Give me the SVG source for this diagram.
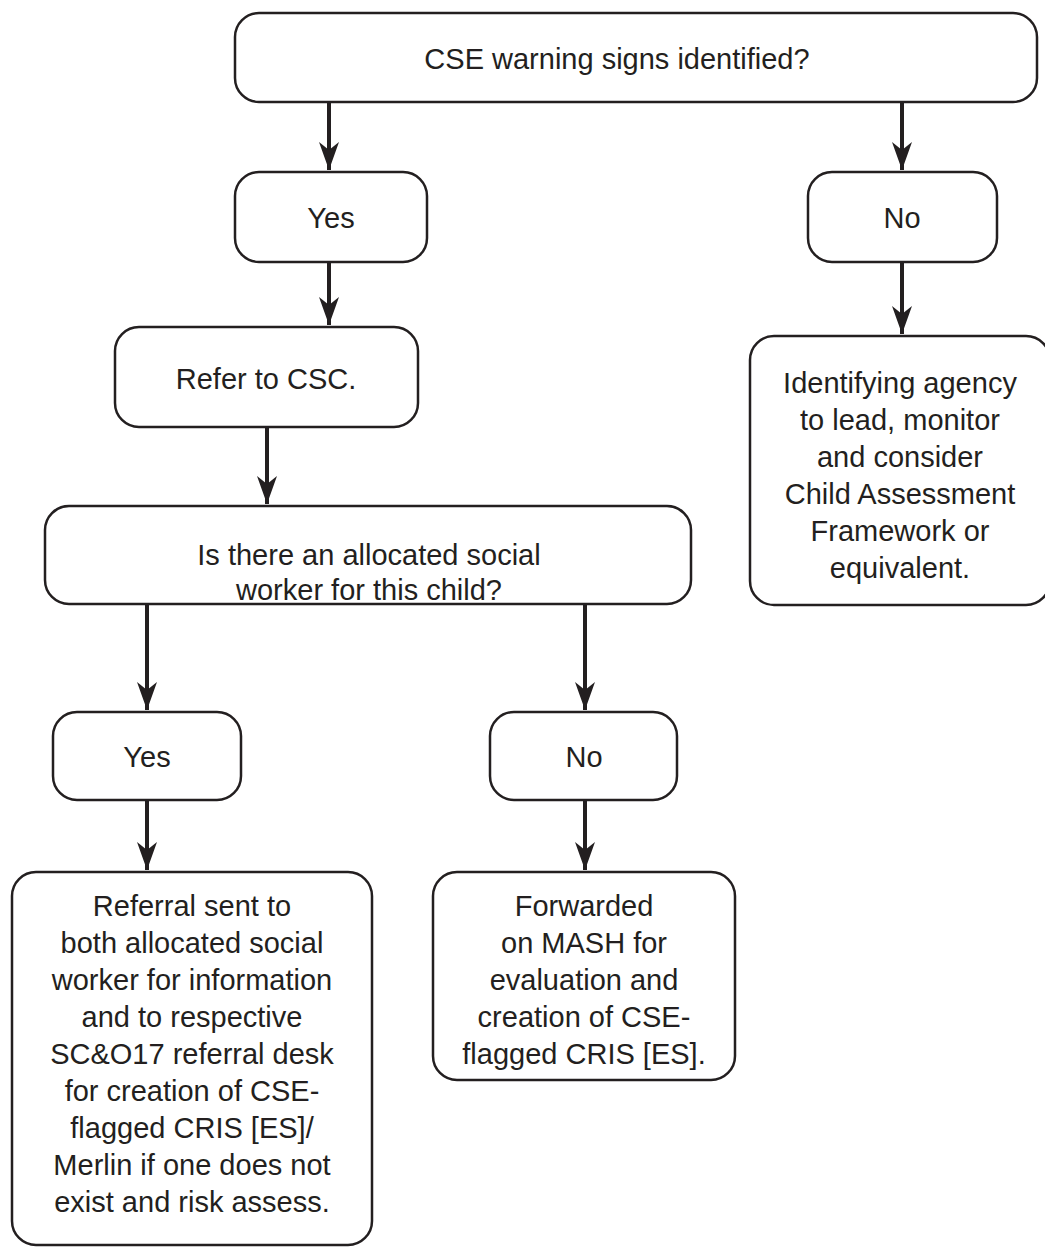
<svg xmlns="http://www.w3.org/2000/svg" width="1045" height="1251" viewBox="0 0 1045 1251">
<style>
.box{fill:#fff;stroke:#231f20;stroke-width:2.5}
.t{font-family:"Liberation Sans",Arial,sans-serif;font-size:29px;fill:#231f20;text-anchor:middle}
.c{stroke:#231f20;stroke-width:4;fill:none}
</style>
<defs>
<marker id="ah" markerUnits="userSpaceOnUse" markerWidth="32" markerHeight="24" viewBox="-30 -12 32 24" refX="0" refY="0" orient="auto">
<path d="M0,0 L-28,-10 L-20,0 L-28,10 Z" fill="#231f20"/>
</marker>
</defs>
<rect width="1045" height="1251" fill="#fff"/>
<g id="connectors">
<line class="c" x1="329" y1="102" x2="329" y2="170" marker-end="url(#ah)"/>
<line class="c" x1="902" y1="102" x2="902" y2="170" marker-end="url(#ah)"/>
<line class="c" x1="329" y1="262" x2="329" y2="325" marker-end="url(#ah)"/>
<line class="c" x1="902" y1="262" x2="902" y2="334" marker-end="url(#ah)"/>
<line class="c" x1="267" y1="427" x2="267" y2="504" marker-end="url(#ah)"/>
<line class="c" x1="147" y1="604" x2="147" y2="710" marker-end="url(#ah)"/>
<line class="c" x1="585" y1="604" x2="585" y2="710" marker-end="url(#ah)"/>
<line class="c" x1="147" y1="800" x2="147" y2="870" marker-end="url(#ah)"/>
<line class="c" x1="585" y1="800" x2="585" y2="870" marker-end="url(#ah)"/>
</g>
<g id="n1"><rect class="box" x="235" y="13" width="802" height="89" rx="24"/><text class="t" x="617" y="69">CSE warning signs identified?</text></g>
<g id="n2"><rect class="box" x="235" y="172" width="192" height="90" rx="24"/><text class="t" x="331" y="228">Yes</text></g>
<g id="n3"><rect class="box" x="808" y="172" width="189" height="90" rx="24"/><text class="t" x="902" y="228">No</text></g>
<g id="n4"><rect class="box" x="115" y="327" width="303" height="100" rx="24"/><text class="t" x="266" y="389">Refer to CSC.</text></g>
<g id="n5"><rect class="box" x="750" y="336" width="300" height="269" rx="24"/>
<text class="t" x="900" y="393">Identifying agency</text>
<text class="t" x="900" y="430">to lead, monitor</text>
<text class="t" x="900" y="467">and consider</text>
<text class="t" x="900" y="504">Child Assessment</text>
<text class="t" x="900" y="541">Framework or</text>
<text class="t" x="900" y="578">equivalent.</text></g>
<g id="n6"><rect class="box" x="45" y="506" width="646" height="98" rx="24"/>
<text class="t" x="369" y="565">Is there an allocated social</text>
<text class="t" x="369" y="600">worker for this child?</text></g>
<g id="n7"><rect class="box" x="53" y="712" width="188" height="88" rx="24"/><text class="t" x="147" y="767">Yes</text></g>
<g id="n8"><rect class="box" x="490" y="712" width="187" height="88" rx="24"/><text class="t" x="584" y="767">No</text></g>
<g id="n9"><rect class="box" x="12" y="872" width="360" height="373" rx="24"/>
<text class="t" x="192" y="916">Referral sent to</text>
<text class="t" x="192" y="953">both allocated social</text>
<text class="t" x="192" y="990">worker for information</text>
<text class="t" x="192" y="1027">and to respective</text>
<text class="t" x="192" y="1064">SC&amp;O17 referral desk</text>
<text class="t" x="192" y="1101">for creation of CSE-</text>
<text class="t" x="192" y="1138">flagged CRIS [ES]/</text>
<text class="t" x="192" y="1175">Merlin if one does not</text>
<text class="t" x="192" y="1212">exist and risk assess.</text></g>
<g id="n10"><rect class="box" x="433" y="872" width="302" height="208" rx="24"/>
<text class="t" x="584" y="916">Forwarded</text>
<text class="t" x="584" y="953">on MASH for</text>
<text class="t" x="584" y="990">evaluation and</text>
<text class="t" x="584" y="1027">creation of CSE-</text>
<text class="t" x="584" y="1064">flagged CRIS [ES].</text></g>
</svg>
